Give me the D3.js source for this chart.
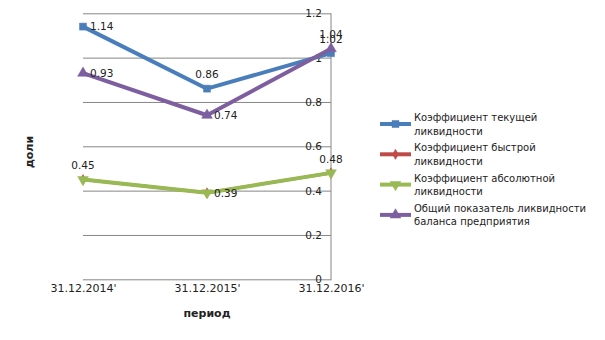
<!DOCTYPE html>
<html><head><meta charset="utf-8">
<script src="https://cdn.jsdelivr.net/npm/d3@7"></script>
<style>body{margin:0;background:#fff}svg{display:block}text{font-family:"DejaVu Sans",sans-serif}</style>
</head><body>
<svg id="c" width="605" height="340"></svg>
<script>
const categories = ["31.12.2014'", "31.12.2015'", "31.12.2016'"];
const seriesNames = [
  ["Коэффициент текущей", "ликвидности"],
  ["Коэффициент быстрой", "ликвидности"],
  ["Коэффициент абсолютной", "ликвидности"],
  ["Общий показатель ликвидности", "баланса предприятия"]
];
const currentRatio = [1.14, 0.86, 1.02];
const quickRatio = [0.45, 0.39, 0.48];
const absoluteRatio = [0.45, 0.39, 0.48];
const overallRatio = [0.93, 0.74, 1.04];
const yTicks = [0, 0.2, 0.4, 0.6, 0.8, 1, 1.2];
const colors = ["#4A7EBB", "#BE4B48", "#98B954", "#7D5FA0"];
const markers = ["square", "diamond", "tridown", "triup"];
const labelPos = [["right","above","above"], null, ["above","right","above"], ["right","right","above"]];

const series = [currentRatio, quickRatio, absoluteRatio, overallRatio];
const svg = d3.select("#c");
const L = 83, R = 331, T = 13.3, B = 279.3;
const x = d3.scalePoint().domain(categories).range([L, R]).padding(0);
const y = d3.scaleLinear().domain([0, 1.2]).range([B, T]);

// gridlines
const yAxis = d3.axisRight(y).tickValues(yTicks).tickSize(-(R - L)).tickFormat(d => d3.format("")(d)).tickPadding(0);
const ga = svg.append("g").attr("transform", `translate(${R},0)`).call(yAxis);
ga.select(".domain").attr("stroke", "#868686").attr("d", `M0,${T}V${B+1}`);
ga.selectAll(".tick line").attr("stroke", "#868686");
ga.selectAll(".tick text").attr("x", -9).attr("text-anchor", "end").attr("fill", "#222")
  .style("font-size", "10.5px").style("font-family", "DejaVu Sans").attr("dy", "0.35em");

// x labels
const xAxis = d3.axisBottom(x).tickSize(0).tickPadding(5);
const gx = svg.append("g").attr("transform", `translate(0,${B})`).call(xAxis);
gx.select(".domain").remove();
gx.selectAll(".tick text").attr("fill", "#222").style("font-size", "11px").style("font-family", "DejaVu Sans");

svg.append("text").attr("x", (L + R) / 2).attr("y", 317).attr("text-anchor", "middle")
  .style("font-size", "11px").style("font-weight", "bold").attr("fill", "#222").text("период");
svg.append("text").attr("transform", "translate(33,152) rotate(-90)").attr("text-anchor", "middle")
  .style("font-size", "11px").style("font-weight", "bold").attr("fill", "#222").text("доли");

function markerPath(type, s) {
  const sym = {square: d3.symbolSquare, diamond: d3.symbolDiamond, triup: d3.symbolTriangle, tridown: d3.symbolTriangle}[type];
  return d3.symbol().type(sym).size(s)();
}
function drawMarker(g, type, cx, cy, color) {
  const p = g.append("path").attr("d", markerPath(type, type === "square" ? 49 : (type === "diamond" ? 30 : 50)))
    .attr("fill", color).attr("stroke", color).attr("stroke-width", 0.5);
  p.attr("transform", `translate(${cx},${cy})` + (type === "tridown" ? " rotate(180)" : ""));
}

const line = d3.line().x((d, i) => x(categories[i])).y(d => y(d));
series.forEach((vals, si) => {
  const g = svg.append("g");
  g.append("path").datum(vals).attr("d", line).attr("fill", "none")
    .attr("stroke", colors[si]).attr("stroke-width", si === 1 ? 3 : 4).attr("stroke-linejoin", "round");
  vals.forEach((v, i) => drawMarker(g, markers[si], x(categories[i]), y(v), colors[si]));
});
// data labels
series.forEach((vals, si) => {
  if (!labelPos[si]) return;
  vals.forEach((v, i) => {
    const px = x(categories[i]), py = y(v);
    const pos = labelPos[si][i];
    const t = svg.append("text").style("font-size", "10.5px").attr("fill", "#222").text(d3.format(".2f")(v));
    if (pos === "right") t.attr("x", px + 7).attr("y", py).attr("dy", "0.35em");
    else t.attr("x", px).attr("y", py - 14).attr("text-anchor", "middle").attr("dy", "0.35em");
  });
});

// legend
const lg = svg.append("g");
seriesNames.forEach((nm, si) => {
  const cy = 124 + si * 30.3;
  lg.append("line").attr("x1", 380).attr("x2", 411).attr("y1", cy).attr("y2", cy)
    .attr("stroke", colors[si]).attr("stroke-width", 4);
  drawMarker(lg, markers[si], 395.5, cy, colors[si]);
  nm.forEach((ln, k) => {
    lg.append("text").attr("x", 414).attr("y", cy - 6.5 + k * 13.5).attr("dy", "0.35em")
      .style("font-size", "10px").attr("fill", "#222").text(ln);
  });
});
</script>
</body></html>
